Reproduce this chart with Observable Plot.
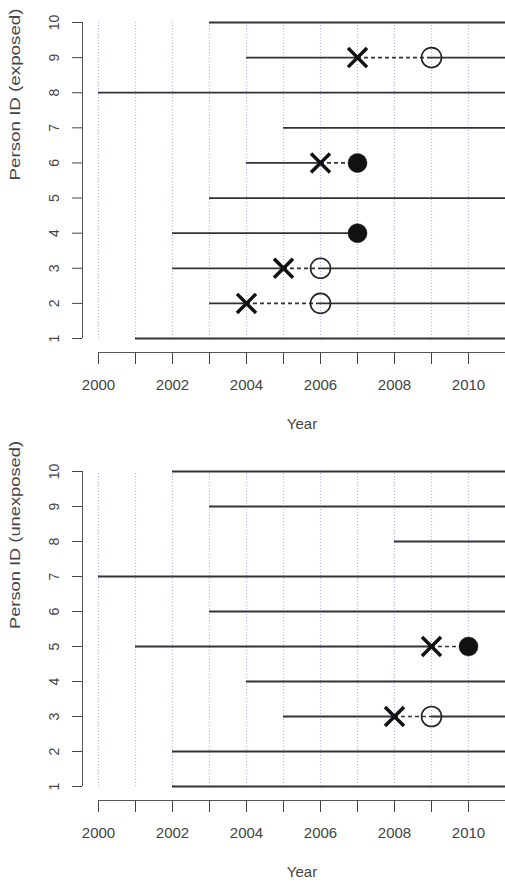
<!DOCTYPE html>
<html><head><meta charset="utf-8">
<script src="https://cdn.jsdelivr.net/npm/d3@7"></script>
<script src="https://cdn.jsdelivr.net/npm/@observablehq/plot@0.6"></script>
<style>
  html, body { margin: 0; padding: 0; background: #fff; }
  #chart svg { display: block; }
</style>
</head><body>
<div id="chart"></div>
<script>
// ---- data ----
const personIds = [1, 2, 3, 4, 5, 6, 7, 8, 9, 10];
const gridYears = [2000, 2001, 2002, 2003, 2004, 2005, 2006, 2007, 2008, 2009, 2010];
const xTickYears = [2000, 2001, 2002, 2003, 2004, 2005, 2006, 2007, 2008, 2009, 2010];
const xDomain = [2000, 2011];
const followUpEnd = 2011;

// exposed panel (index = person 1..10)
const exposedStart       = [2001, 2003, 2002, 2002, 2003, 2004, 2005, 2000, 2004, 2003];
const exposedCross       = [null, 2004, 2005, null, null, 2006, null, null, 2007, null];
const exposedOutcome     = [null, 2006, 2006, 2007, null, 2007, null, null, 2009, null];
const exposedOutcomeType = [null, "open", "open", "filled", null, "filled", null, null, "open", null];

// unexposed panel
const unexposedStart       = [2002, 2002, 2005, 2004, 2001, 2003, 2000, 2008, 2003, 2002];
const unexposedCross       = [null, null, 2008, null, 2009, null, null, null, null, null];
const unexposedOutcome     = [null, null, 2009, null, 2010, null, null, null, null, null];
const unexposedOutcomeType = [null, null, "open", null, "filled", null, null, null, null, null];

const FONT = "'Liberation Sans', Arial, Helvetica, sans-serif";

function panel({start, cross, outcome, type, yLabel, labelLength, height, yRange, marginBottom}) {
  const rows = personIds.map((id, i) => ({id, start: start[i], cross: cross[i], outcome: outcome[i], type: type[i]}));
  const solid = [], dashed = [];
  for (const r of rows) {
    const firstEnd = r.cross ?? r.outcome ?? followUpEnd;
    solid.push({y: r.id, x1: r.start, x2: firstEnd});
    if (r.cross != null && r.outcome != null) dashed.push({y: r.id, x1: r.cross, x2: r.outcome});
    if (r.outcome != null && r.type === "open") solid.push({y: r.id, x1: r.outcome, x2: followUpEnd});
  }
  const crosses = rows.filter(r => r.cross != null);
  const opens = rows.filter(r => r.type === "open");
  const filled = rows.filter(r => r.type === "filled");

  const svg = Plot.plot({
    width: 505,
    height,
    marginLeft: 82,
    marginRight: 0,
    marginTop: yRange[1],
    marginBottom,
    x: {domain: xDomain, range: [98, 505]},
    y: {domain: [1, 10], range: yRange},
    style: {fontFamily: FONT, color: "#444", background: "#fff", overflow: "hidden"},
    marks: [
      Plot.ruleX(gridYears, {y1: 1, y2: 10, stroke: "#9c9cf2", strokeOpacity: 0.75, strokeWidth: 1.1, strokeDasharray: "1,2"}),
      Plot.ruleY(solid, {y: "y", x1: "x1", x2: "x2", stroke: "#333", strokeWidth: 1.8}),
      Plot.ruleY(dashed, {y: "y", x1: "x1", x2: "x2", stroke: "#333", strokeWidth: 1.7, strokeDasharray: "4,3"}),
      Plot.dot(opens, {x: "outcome", y: "id", r: 10, stroke: "#222", strokeWidth: 1.6, fill: "none"}),
      Plot.dot(filled, {x: "outcome", y: "id", r: 9.5, fill: "#111", stroke: "#111", strokeWidth: 0.5}),
      Plot.dot(crosses, {x: "cross", y: "id", symbol: "times", r: 8.7, stroke: "#111", strokeWidth: 3.5}),
      // axes
      Plot.ruleX([xDomain[0]], {y1: 1, y2: 10, dx: -16, stroke: "#555"}),
      Plot.axisY({ticks: personIds, tickSize: 10, tickPadding: 14, tickRotate: -90, fontSize: 14, label: null, tickFormat: d => String(d)}),
      Plot.ruleY([1], {x1: xDomain[0], x2: xDomain[1], dy: 14, stroke: "#555"}),
      Plot.axisX({ticks: xTickYears, tickSize: 12, tickPadding: 15, fontSize: 15, label: null,
                  tickFormat: d => (d % 2 === 0 ? String(d) : "")}),
      Plot.text([yLabel], {y: 5.5, frameAnchor: "left", dx: -67, rotate: -90, fontSize: 15, fill: "#444"}),
      Plot.text(["Year"], {x: (xDomain[0] + xDomain[1]) / 2, frameAnchor: "bottom", dy: 76, fontSize: 15, fill: "#444"})
    ]
  });
  svg.querySelectorAll("text").forEach(t => {
    if (t.textContent === yLabel) {
      t.setAttribute("textLength", labelLength);
      t.setAttribute("lengthAdjust", "spacingAndGlyphs");
    }
  });
  return svg;
}

const chart = document.getElementById("chart");
chart.appendChild(panel({
  start: exposedStart, cross: exposedCross, outcome: exposedOutcome, type: exposedOutcomeType,
  yLabel: "Person ID (exposed)", labelLength: 172,
  height: 441, yRange: [338, 22], marginBottom: 89
}));
chart.appendChild(panel({
  start: unexposedStart, cross: unexposedCross, outcome: unexposedOutcome, type: unexposedOutcomeType,
  yLabel: "Person ID (unexposed)", labelLength: 188,
  height: 442, yRange: [345, 30], marginBottom: 83
}));
</script>
</body></html>
